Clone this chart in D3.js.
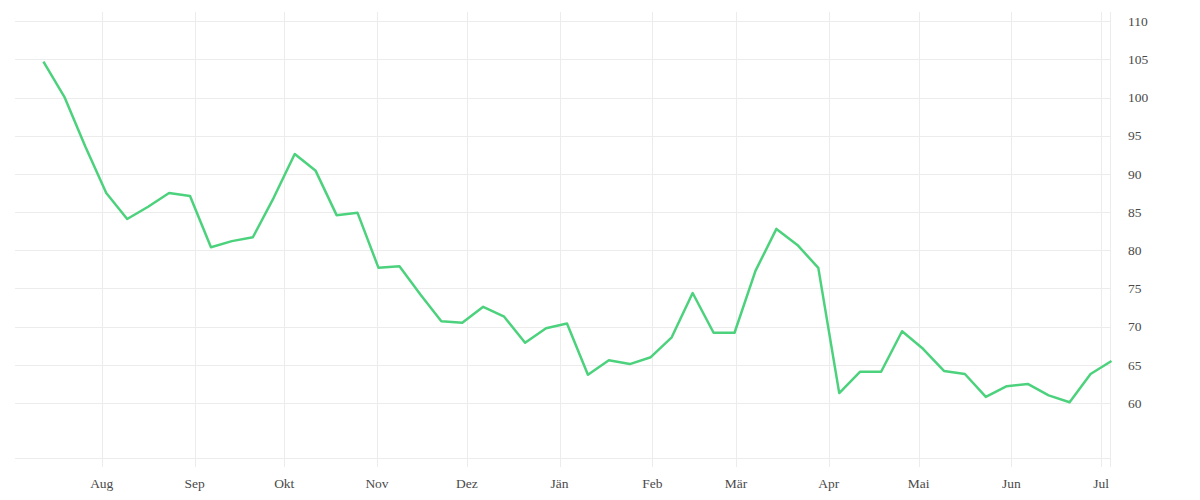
<!DOCTYPE html>
<html>
<head>
<meta charset="utf-8">
<script src="https://d3js.org/d3.v7.min.js"></script>
<style>
  body { margin: 0; background: #fff; }
  svg text { font-family: "Liberation Serif", serif; font-size: 13.5px; fill: #4a4a4a; }
</style>
</head>
<body>
<svg id="chart" width="1200" height="500"></svg>
<script>
// weekly dates
var dates = [
  "2022-07-12","2022-07-19","2022-07-26","2022-08-02","2022-08-09","2022-08-16","2022-08-23","2022-08-30",
  "2022-09-06","2022-09-13","2022-09-20","2022-09-27","2022-10-04","2022-10-11","2022-10-18","2022-10-25",
  "2022-11-01","2022-11-08","2022-11-15","2022-11-22","2022-11-29","2022-12-06","2022-12-13","2022-12-20",
  "2022-12-27","2023-01-03","2023-01-10","2023-01-17","2023-01-24","2023-01-31","2023-02-07","2023-02-14",
  "2023-02-21","2023-02-28","2023-03-07","2023-03-14","2023-03-21","2023-03-28","2023-04-04","2023-04-11",
  "2023-04-18","2023-04-25","2023-05-02","2023-05-09","2023-05-16","2023-05-23","2023-05-30","2023-06-06",
  "2023-06-13","2023-06-20","2023-06-27","2023-07-04"
];
var values = [
  104.7, 100.1, 93.6, 87.5, 84.1, 85.7, 87.5, 87.1,
  80.4, 81.2, 81.7, 86.9, 92.6, 90.4, 84.6, 84.9,
  77.7, 77.9, 74.2, 70.7, 70.5, 72.6, 71.3, 67.9,
  69.8, 70.4, 63.7, 65.6, 65.1, 66.0, 68.6, 74.4,
  69.2, 69.2, 77.3, 82.8, 80.7, 77.7, 61.3, 64.1,
  64.1, 69.4, 67.1, 64.2, 63.8, 60.8, 62.2, 62.5,
  61.0, 60.1, 63.8, 65.5
];
var monthTicks = ["2022-08-01","2022-09-01","2022-10-01","2022-11-01","2022-12-01","2023-01-01",
  "2023-02-01","2023-03-01","2023-04-01","2023-05-01","2023-06-01","2023-07-01"];
var monthLabels = ["Aug","Sep","Okt","Nov","Dez","Jän","Feb","Mär","Apr","Mai","Jun","Jul"];
var yTicks = [60, 65, 70, 75, 80, 85, 90, 95, 100, 105, 110];

(function(){
  var parse = d3.timeParse("%Y-%m-%d");
  // points sit at midday of their date
  var data = dates.map(function(d, i){ return {date: d3.timeHour.offset(parse(d), 12), value: values[i]}; });
  var tickDates = monthTicks.map(parse);

  var left = 15, right = 1110, top = 12, bottom = 458;

  var x = d3.scaleTime()
    .domain([parse("2022-07-03"), parse("2023-07-04")])
    .range([left, right]);
  var y = d3.scaleLinear()
    .domain([52.8, 111.2])
    .range([bottom, top]);

  var svg = d3.select("#chart");
  var grid = svg.append("g");

  // horizontal grid
  grid.selectAll(".hgrid").data(yTicks).enter().append("line")
    .attr("x1", left).attr("x2", right)
    .attr("y1", function(d){ return Math.round(y(d)) + 0.5; })
    .attr("y2", function(d){ return Math.round(y(d)) + 0.5; })
    .style("stroke", "#ececec").style("stroke-width", 1);

  // bottom line
  grid.append("line")
    .attr("x1", left).attr("x2", right)
    .attr("y1", bottom + 0.5).attr("y2", bottom + 0.5)
    .style("stroke", "#ececec");

  // right edge
  grid.append("line")
    .attr("x1", right + 0.5).attr("x2", right + 0.5)
    .attr("y1", top).attr("y2", bottom + 9)
    .style("stroke", "#ececec");

  // vertical month grid
  grid.selectAll(".vgrid").data(tickDates).enter().append("line")
    .attr("x1", function(d){ return Math.round(x(d)) + 0.5; })
    .attr("x2", function(d){ return Math.round(x(d)) + 0.5; })
    .attr("y1", top).attr("y2", bottom + 9)
    .style("stroke", "#ececec");

  // x labels
  svg.selectAll(".xlab").data(tickDates).enter().append("text")
    .attr("x", function(d){ return x(d); })
    .attr("y", 488)
    .attr("text-anchor", "middle")
    .text(function(d, i){ return monthLabels[i]; });

  // y labels
  svg.selectAll(".ylab").data(yTicks).enter().append("text")
    .attr("x", 1128)
    .attr("y", function(d){ return y(d); })
    .attr("dy", "0.35em")
    .text(function(d){ return d; });

  var line = d3.line()
    .x(function(d){ return x(d.date); })
    .y(function(d){ return y(d.value); });

  svg.append("path")
    .datum(data)
    .attr("d", line)
    .style("fill", "none")
    .style("stroke", "#4cd27d")
    .style("stroke-width", 2.5)
    .style("stroke-linejoin", "round");
})();
</script>
</body>
</html>
